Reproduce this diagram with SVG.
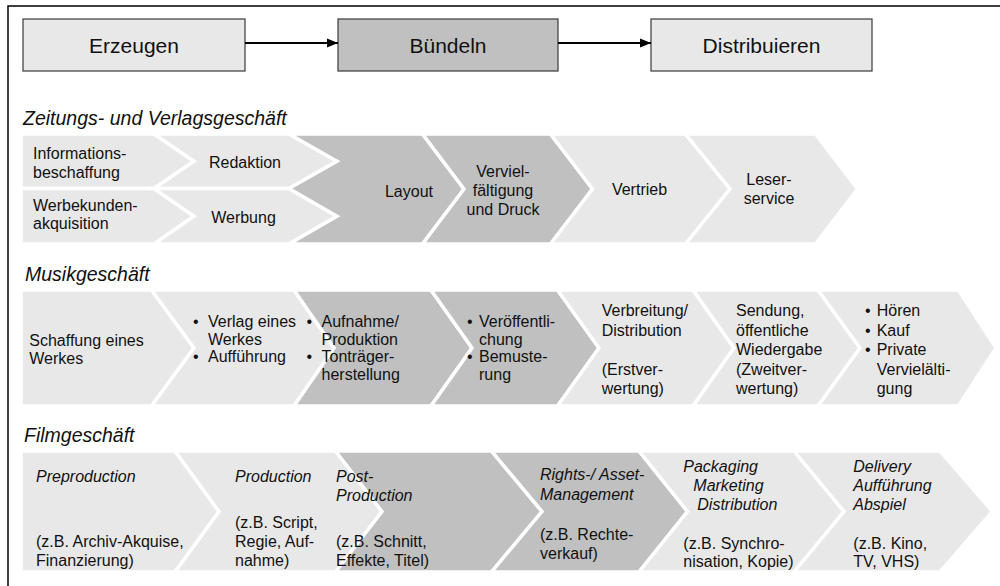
<svg xmlns="http://www.w3.org/2000/svg" width="1000" height="586" viewBox="0 0 1000 586">
<defs>
<style>
text{font-family:"Liberation Sans",Arial,sans-serif;font-size:16px;fill:#111}
.h{font-size:19.5px;font-style:italic}
.bx{font-size:21px;text-anchor:middle}
.i{font-style:italic}
.c{text-anchor:middle}
.box{stroke:#3a3a3a;stroke-width:1.2}
.lt{fill:#e8e8e8}
.dk{fill:#c0c0c0}
.chev{stroke:#fff;stroke-width:3.5;stroke-linejoin:miter;stroke-miterlimit:10}
.con{stroke:#000;stroke-width:2;fill:none}
</style>
<marker id="ah" markerUnits="userSpaceOnUse" markerWidth="11" markerHeight="10" refX="11" refY="5" orient="auto">
<path d="M0,0.5 L11,5 L0,9.5 z" fill="#000"/>
</marker>
</defs>
<rect width="1000" height="586" fill="#fff"/>
<path d="M8,586 V6 H1000" fill="none" stroke="#000" stroke-width="1.5"/>

<g id="erzeugen"><rect class="box lt" x="23" y="19" width="222" height="52"/><text class="bx" x="134" y="53">Erzeugen</text></g>
<g id="buendeln"><rect class="box dk" x="338" y="19" width="220" height="52"/><text class="bx" x="448" y="53">Bündeln</text></g>
<g id="distribuieren"><rect class="box lt" x="651" y="19" width="221" height="52"/><text class="bx" x="761.5" y="53">Distribuieren</text></g>
<g id="connectors">
<line class="con" x1="245" y1="43" x2="338" y2="43" marker-end="url(#ah)"/>
<line class="con" x1="558" y1="43" x2="651" y2="43" marker-end="url(#ah)"/>
</g>

<text class="h" x="23" y="125">Zeitungs- und Verlagsgeschäft</text>
<g id="z-info"><polygon class="chev lt" points="21,134 154,134 194,161.25 154,188.5 21,188.5"/><text x="33" y="159">Informations-</text><text x="33" y="177.5">beschaffung</text></g>
<g id="z-werbekunden"><polygon class="chev lt" points="21,188.5 154,188.5 194,216.25 154,244 21,244"/><text x="33" y="210.5">Werbekunden-</text><text x="33" y="229">akquisition</text></g>
<g id="z-redaktion"><polygon class="chev lt" points="154,134 289,134 337,161.25 289,188.5 154,188.5 194,161.25"/><text class="c" x="245" y="168">Redaktion</text></g>
<g id="z-werbung"><polygon class="chev lt" points="154,188.5 289,188.5 337,216.25 289,244 154,244 194,216.25"/><text class="c" x="243.5" y="223">Werbung</text></g>
<g id="z-layout"><polygon class="chev dk" points="289,134 422.5,134 464,189 422.5,244 289,244 337,216.25 289,188.5 337,161.25"/><text class="c" x="409" y="196.5">Layout</text></g>
<g id="z-druck"><polygon class="chev dk" points="422.5,134 550.5,134 592.5,189 550.5,244 422.5,244 464,189"/><text class="c" x="503" y="176.5">Verviel-</text><text class="c" x="503" y="195.5">fältigung</text><text class="c" x="503" y="214.5">und Druck</text></g>
<g id="z-vertrieb"><polygon class="chev lt" points="550.5,134 685.5,134 730,189 685.5,244 550.5,244 592.5,189"/><text class="c" x="639.5" y="195">Vertrieb</text></g>
<g id="z-leser"><polygon class="chev lt" points="685.5,134 815.5,134 857.5,189 815.5,244 685.5,244 730,189"/><text class="c" x="769" y="185">Leser-</text><text class="c" x="769" y="204">service</text></g>

<text class="h" x="25" y="281">Musikgeschäft</text>
<g id="m-schaffung"><polygon class="chev lt" points="21,290 151.5,290 194,348 151.5,406 21,406"/><text x="29.3" y="345.5">Schaffung eines</text><text x="29.3" y="364">Werkes</text></g>
<g id="m-verlag"><polygon class="chev lt" points="151.5,290 294,290 334,348 294,406 151.5,406 194,348"/><text x="193" y="327">•</text><text x="208" y="327">Verlag eines</text><text x="208" y="344.5">Werkes</text><text x="193" y="362">•</text><text x="208" y="362">Aufführung</text></g>
<g id="m-aufnahme"><polygon class="chev dk" points="294,290 431,290 472,348 431,406 294,406 334,348"/><text x="306.5" y="327">•</text><text x="321.5" y="327">Aufnahme/</text><text x="321.5" y="344.5">Produktion</text><text x="306.5" y="362">•</text><text x="321.5" y="362">Tonträger-</text><text x="321.5" y="379.5">herstellung</text></g>
<g id="m-veroeffentlichung"><polygon class="chev dk" points="431,290 557.5,290 599,348 557.5,406 431,406 472,348"/><text x="467" y="327">•</text><text x="479" y="327">Veröffentli-</text><text x="479" y="344.5">chung</text><text x="467" y="362">•</text><text x="479" y="362">Bemuste-</text><text x="479" y="379.5">rung</text></g>
<g id="m-verbreitung"><polygon class="chev lt" points="557.5,290 693,290 734,348 693,406 557.5,406 599,348"/><text x="601.7" y="316">Verbreitung/</text><text x="601.7" y="335.5">Distribution</text><text x="601.7" y="374.5">(Erstver-</text><text x="601.7" y="394">wertung)</text></g>
<g id="m-sendung"><polygon class="chev lt" points="693,290 818,290 860,348 818,406 693,406 734,348"/><text x="736" y="316">Sendung,</text><text x="736" y="335.5">öffentliche</text><text x="736" y="355">Wiedergabe</text><text x="736" y="374.5">(Zweitver-</text><text x="736" y="394">wertung)</text></g>
<g id="m-hoeren"><polygon class="chev lt" points="818,290 958.5,290 996,348 958.5,406 818,406 860,348"/><text x="865" y="316">•</text><text x="876.7" y="316">Hören</text><text x="865" y="335.5">•</text><text x="876.7" y="335.5">Kauf</text><text x="865" y="355">•</text><text x="876.7" y="355">Private</text><text x="876.7" y="374.5">Vervielälti-</text><text x="876.7" y="394">gung</text></g>

<text class="h" x="24" y="442">Filmgeschäft</text>
<g id="f-preproduction"><polygon class="chev lt" points="21,451 175,451 219,511.5 175,572 21,572"/><text class="i" x="36" y="481.5">Preproduction</text><text x="36" y="547">(z.B. Archiv-Akquise,</text><text x="36" y="566">Finanzierung)</text></g>
<g id="f-production"><polygon class="chev lt" points="175,451 335.5,451 382,511.5 335.5,572 175,572 219,511.5"/><text class="i" x="235" y="481.5">Production</text><text x="235" y="528">(z.B. Script,</text><text x="235" y="547">Regie, Auf-</text><text x="235" y="566">nahme)</text></g>
<g id="f-postproduction"><polygon class="chev dk" points="335.5,451 491.5,451 542,511.5 491.5,572 335.5,572 382,511.5"/><text class="i" x="336" y="481.5">Post-</text><text class="i" x="336" y="500.5">Production</text><text x="336" y="547">(z.B. Schnitt,</text><text x="336" y="566">Effekte, Titel)</text></g>
<g id="f-rights"><polygon class="chev dk" points="491.5,451 639,451 687.5,511.5 639,572 491.5,572 542,511.5"/><text class="i" x="540" y="480">Rights-/ Asset-</text><text class="i" x="540" y="499.5">Management</text><text x="540" y="539.5">(z.B. Rechte-</text><text x="540" y="558.5">verkauf)</text></g>
<g id="f-packaging"><polygon class="chev lt" points="639,451 794,451 844,511.5 794,572 639,572 687.5,511.5"/><text class="i" x="683.3" y="471.5">Packaging</text><text class="i" x="693.3" y="490.5">Marketing</text><text class="i" x="697.3" y="509.5">Distribution</text><text x="683.3" y="548.5">(z.B. Synchro-</text><text x="683.3" y="567">nisation, Kopie)</text></g>
<g id="f-delivery"><polygon class="chev lt" points="794,451 940,451 992.5,511.5 940,572 794,572 844,511.5"/><text class="i" x="853.3" y="471.5">Delivery</text><text class="i" x="853.3" y="490.5">Aufführung</text><text class="i" x="853.3" y="509.5">Abspiel</text><text x="853.3" y="548.5">(z.B. Kino,</text><text x="853.3" y="567">TV, VHS)</text></g>
</svg>
